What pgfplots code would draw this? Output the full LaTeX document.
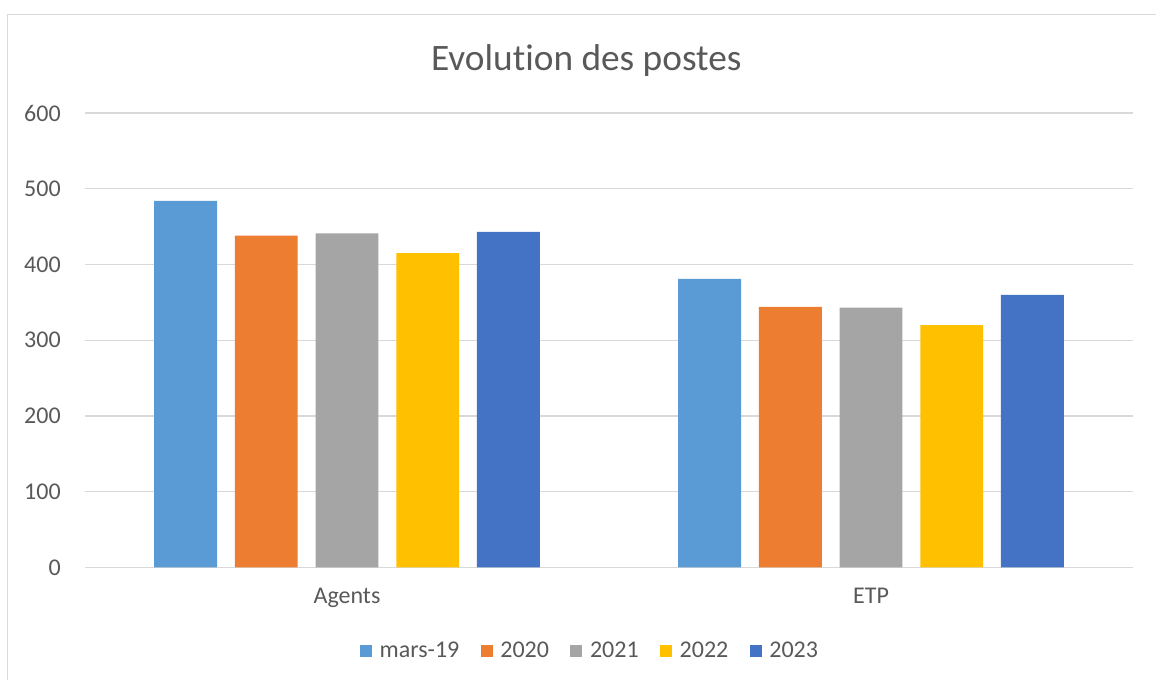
\documentclass[border=0pt]{standalone}
\usepackage{pgfplots}
\pgfplotsset{compat=1.18}
\usepackage{fontspec}
\setmainfont{Carlito}[Ligatures=NoCommon]
\definecolor{cA}{HTML}{5B9BD5}
\definecolor{cB}{HTML}{ED7D31}
\definecolor{cC}{HTML}{A5A5A5}
\definecolor{cD}{HTML}{FFC000}
\definecolor{cE}{HTML}{4472C4}
\definecolor{txt}{HTML}{595959}
\definecolor{gridc}{HTML}{D9D9D9}
\begin{document}
\begin{tikzpicture}
\useasboundingbox (0,0) rectangle (867pt,510pt);
\draw[gridc, line width=1.2pt] (5.6pt,0) -- (5.6pt,499.1pt) -- (867pt,499.1pt);
\begin{axis}[
  at={(63.75pt,84.375pt)}, anchor=south west,
  scale only axis, width=786pt, height=340.875pt,
  xmin=-0.5, xmax=1.5, ymin=0, ymax=600,
  enlargelimits=false,
  axis lines=left,
  axis line style={-},
  x axis line style={draw=gridc, line width=1.1pt},
  y axis line style={draw=none},
  major tick length=0pt,
  ytick={0,100,...,600},
  xtick={0,1}, xticklabels={Agents,ETP},
  ymajorgrids, grid style={gridc, line width=1.1pt},
  /pgf/number format/assume math mode=true,
  tick label style={font=\fontsize{18}{20}\selectfont, text=txt},
  yticklabel style={inner sep=0pt, anchor=east, xshift=-18pt},
  xticklabel style={inner sep=0pt, anchor=north, yshift=-15pt},
  title={Evolution des postes},
  title style={font=\fontsize{28}{31}\selectfont, text=txt, at={(0.5,1)}, anchor=center, yshift=33pt, xshift=-17pt, inner sep=0pt},
  legend columns=5,
  legend style={draw=none, fill=none, font=\fontsize{18}{20}\selectfont, text=txt,
    at={(0.5,0)}, anchor=center, yshift=-62.6pt, xshift=-14pt,
    /tikz/every odd column/.append style={column sep=3.75pt},
    /tikz/every even column/.append style={column sep=14pt},
    inner sep=0pt},
  legend image code/.code={\fill[#1] (0pt,-4.5pt) rectangle (9pt,4.5pt);},
  every axis plot/.append style={ybar, bar width=0.12, bar shift=0pt, draw=none},
]
\addplot[fill=cA] coordinates {(-0.308,484) (0.692,381)};
\addplot[fill=cB] coordinates {(-0.154,438) (0.846,344)};
\addplot[fill=cC] coordinates {(0,441) (1,343)};
\addplot[fill=cD] coordinates {(0.154,415) (1.154,320)};
\addplot[fill=cE] coordinates {(0.308,443) (1.308,360)};
\legend{mars-19,2020,2021,2022,2023}
\end{axis}
\end{tikzpicture}
\end{document}
